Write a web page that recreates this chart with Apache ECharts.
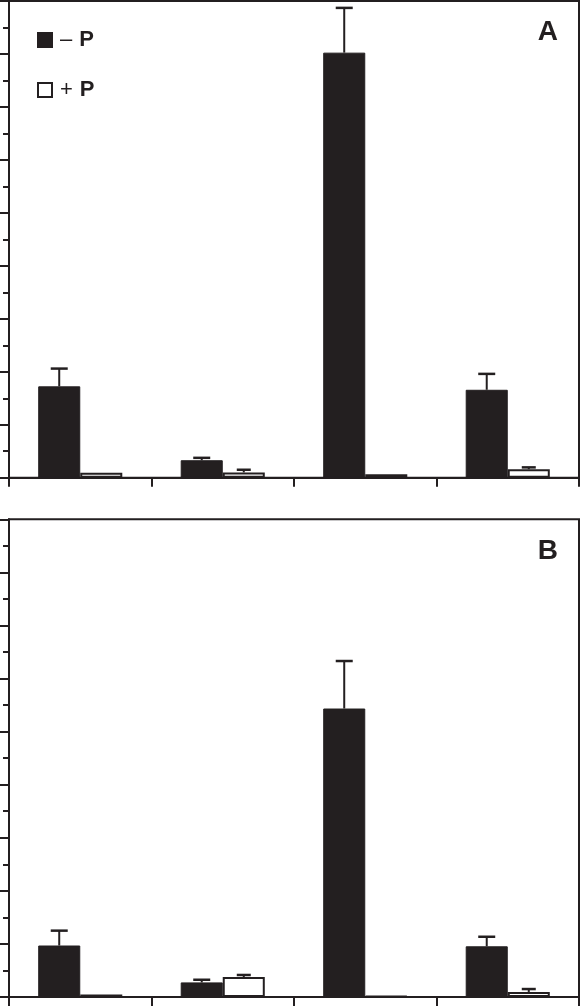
<!DOCTYPE html>
<html>
<head>
<meta charset="utf-8">
<script src="https://cdn.jsdelivr.net/npm/echarts@6/dist/echarts.min.js"></script>
<style>
html, body { margin: 0; padding: 0; background: #fff; }
#chart { width: 581px; height: 1007px; }
</style>
</head>
<body>
<div id="chart"></div>
<script>
// categories (no labels shown on the figure)
var categories = ['1', '2', '3', '4'];

// panel A
var minusP_A = [3.45, 0.66, 16.05, 3.32];
var minusP_A_err = [0.67, 0.09, 1.69, 0.6];
var plusP_A = [0.19, 0.2, 0.13, 0.32];
var plusP_A_err = [0, 0.1, 0, 0.07];

// panel B
var minusP_B = [1.94, 0.55, 10.87, 1.91];
var minusP_B_err = [0.56, 0.1, 1.79, 0.36];
var plusP_B = [0.09, 0.75, 0.03, 0.19];
var plusP_B_err = [0, 0.08, 0, 0.11];

var dark = '#231f20';
var barPct = 0.295;

function errData(vals, errs) {
    var out = [];
    for (var i = 0; i < vals.length; i++) {
        out.push([i, vals[i] + errs[i], vals[i], errs[i]]);
    }
    return out;
}

function errSeries(idx, vals, errs, side, capHalf) {
    return {
        type: 'custom',
        xAxisIndex: idx,
        yAxisIndex: idx,
        z: 5,
        silent: true,
        data: errData(vals, errs),
        renderItem: function(params, api) {
            if (api.value(3) <= 0) {
                return;
            }
            var bw = api.size([1, 0])[0] * barPct;
            var p0 = api.coord([api.value(0), api.value(2)]);
            var p1 = api.coord([api.value(0), api.value(1)]);
            var x = p0[0] + side * bw / 2;
            var st = { stroke: dark, lineWidth: 2 };
            return {
                type: 'group',
                children: [
                    { type: 'line', shape: { x1: x, y1: p0[1], x2: x, y2: p1[1] }, style: st },
                    { type: 'line', shape: { x1: x - capHalf, y1: p1[1], x2: x + capHalf, y2: p1[1] }, style: { stroke: dark, lineWidth: 2.5 } }
                ]
            };
        }
    };
}

function xAx(idx) {
    return {
        type: 'category',
        gridIndex: idx,
        data: categories,
        boundaryGap: true,
        axisLine: { show: true, lineStyle: { color: dark, width: 2 } },
        axisTick: { show: true, interval: 0, alignWithLabel: false, inside: false, length: 9, lineStyle: { color: dark, width: 2 } },
        axisLabel: { show: false }
    };
}

function yAx(idx) {
    return {
        type: 'value',
        gridIndex: idx,
        min: 0,
        max: 18,
        interval: 2,
        axisLine: { show: true, lineStyle: { color: dark, width: 2 } },
        axisTick: { show: true, length: 9, lineStyle: { color: dark, width: 2 } },
        minorTick: { show: true, splitNumber: 2, length: 6, lineStyle: { color: dark, width: 2 } },
        splitLine: { show: false },
        axisLabel: { show: false }
    };
}

var chart = echarts.init(document.getElementById('chart'));

var option = {
    animation: false,
    backgroundColor: '#fff',
    title: [
        { text: 'A', right: 23, top: 18, padding: 0,
          textStyle: { fontFamily: 'Liberation Sans', fontWeight: 'bold', fontSize: 28, color: dark } },
        { text: 'B', right: 23, top: 537, padding: 0,
          textStyle: { fontFamily: 'Liberation Sans', fontWeight: 'bold', fontSize: 28, color: dark } }
    ],
    legend: {
        data: ['-P', '+P'],
        orient: 'vertical',
        left: 37,
        top: 29,
        padding: 0,
        itemWidth: 14,
        itemHeight: 14,
        itemGap: 28,
        icon: 'rect',
        selectedMode: false,
        formatter: function(name) {
            return name == '-P' ? '{s|\u2013}{p|P}' : '{s|+}{p|P}';
        },
        textStyle: {
            padding: [0, 0, 0, 3],
            rich: {
                s: { fontFamily: 'Liberation Sans', fontSize: 22, color: dark, padding: [0, 7, 0, 0] },
                p: { fontFamily: 'Liberation Sans', fontSize: 22, fontWeight: 'bold', color: dark }
            }
        }
    },
    grid: [
        { left: 9, right: 2, top: 1, height: 476.7, show: true, borderColor: dark, borderWidth: 2 },
        { left: 9, right: 2, top: 519.3, height: 477.7, show: true, borderColor: dark, borderWidth: 2 }
    ],
    xAxis: [xAx(0), xAx(1)],
    yAxis: [yAx(0), yAx(1)],
    series: [
        { name: '-P', type: 'bar', xAxisIndex: 0, yAxisIndex: 0, data: minusP_A,
          barWidth: (barPct * 100) + '%', barGap: '0%',
          itemStyle: { color: dark, borderColor: dark, borderWidth: 1 } },
        { name: '+P', type: 'bar', xAxisIndex: 0, yAxisIndex: 0, data: plusP_A,
          barWidth: (barPct * 100) + '%', barGap: '0%',
          itemStyle: { color: '#fff', borderColor: dark, borderWidth: 2 } },
        { name: '-P', type: 'bar', xAxisIndex: 1, yAxisIndex: 1, data: minusP_B,
          barWidth: (barPct * 100) + '%', barGap: '0%',
          itemStyle: { color: dark, borderColor: dark, borderWidth: 1 } },
        { name: '+P', type: 'bar', xAxisIndex: 1, yAxisIndex: 1, data: plusP_B,
          barWidth: (barPct * 100) + '%', barGap: '0%',
          itemStyle: { color: '#fff', borderColor: dark, borderWidth: 2 } },
        errSeries(0, minusP_A, minusP_A_err, -1, 8.5),
        errSeries(0, plusP_A, plusP_A_err, 1, 7),
        errSeries(1, minusP_B, minusP_B_err, -1, 8.5),
        errSeries(1, plusP_B, plusP_B_err, 1, 7)
    ]
};

chart.setOption(option);
</script>
</body>
</html>
